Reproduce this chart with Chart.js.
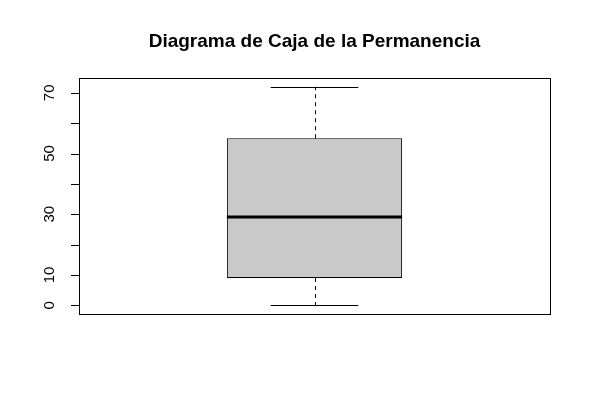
<!DOCTYPE html>
<html>
<head>
<meta charset="utf-8">
<script src="https://cdn.jsdelivr.net/npm/chart.js@4/dist/chart.umd.min.js"></script>
<style>
  html, body { margin: 0; padding: 0; background: #fff; }
  #wrap { width: 591px; height: 413px; }
</style>
</head>
<body>
<div id="wrap"><canvas id="boxChart" width="591" height="413"></canvas></div>
<script>
// Boxplot statistics
var categories = ["Permanencia"];
var whiskerLow = [0];
var quart1 = [9];
var median = [29];
var quart3 = [55];
var whiskerHigh = [72];

// y axis ticks (R draws ticks every 10, skips labels that would overlap)
var tickValues = [0, 10, 20, 30, 40, 50, 60, 70];
var tickLabels = ["0", "10", "", "30", "", "50", "", "70"];

var FONT = "'Liberation Sans', Arial, Helvetica, sans-serif";

// whiskers, median and R style axis, all placed through the chart scales
var boxExtras = {
    id: 'boxExtras',
    afterDatasetsDraw: function(chart) {
        var ctx = chart.ctx;
        var y = chart.scales.y;
        var meta = chart.getDatasetMeta(0);
        ctx.save();
        meta.data.forEach(function(bar, i) {
            var cx = bar.x;
            var half = bar.width / 2;
            var cap = bar.width / 4;
            // dashed whiskers
            ctx.strokeStyle = '#000';
            ctx.lineWidth = 1;
            ctx.setLineDash([4, 4]);
            ctx.beginPath();
            ctx.moveTo(Math.round(cx) + 0.5, y.getPixelForValue(quart3[i]));
            ctx.lineTo(Math.round(cx) + 0.5, y.getPixelForValue(whiskerHigh[i]));
            ctx.moveTo(Math.round(cx) + 0.5, y.getPixelForValue(quart1[i]));
            ctx.lineTo(Math.round(cx) + 0.5, y.getPixelForValue(whiskerLow[i]));
            ctx.stroke();
            ctx.setLineDash([]);
            // staples
            ctx.beginPath();
            var yh = Math.round(y.getPixelForValue(whiskerHigh[i])) + 0.5;
            var yl = Math.round(y.getPixelForValue(whiskerLow[i])) + 0.5;
            ctx.moveTo(cx - cap, yh); ctx.lineTo(cx + cap, yh);
            ctx.moveTo(cx - cap, yl); ctx.lineTo(cx + cap, yl);
            ctx.stroke();
            // median
            ctx.lineWidth = 3;
            ctx.beginPath();
            var ym = Math.round(y.getPixelForValue(median[i]));
            ctx.moveTo(cx - half, ym); ctx.lineTo(cx + half, ym);
            ctx.stroke();
        });
        ctx.restore();
    },
    afterDraw: function(chart) {
        var ctx = chart.ctx;
        var a = chart.chartArea;
        var y = chart.scales.y;
        ctx.save();
        ctx.strokeStyle = '#000';
        ctx.lineWidth = 1;
        // frame
        ctx.strokeRect(Math.round(a.left) + 0.5, Math.round(a.top) + 0.5,
                       Math.round(a.right - a.left), Math.round(a.bottom - a.top));
        // ticks
        ctx.beginPath();
        tickValues.forEach(function(v) {
            var py = Math.round(y.getPixelForValue(v)) + 0.5;
            ctx.moveTo(a.left - 8, py);
            ctx.lineTo(a.left, py);
        });
        ctx.stroke();
        // labels, rotated like R's las = 0
        ctx.fillStyle = '#000';
        ctx.font = '15px ' + FONT;
        ctx.textAlign = 'center';
        ctx.textBaseline = 'middle';
        tickValues.forEach(function(v, i) {
            if (!tickLabels[i]) return;
            ctx.save();
            ctx.translate(a.left - 29.5, y.getPixelForValue(v));
            ctx.rotate(-Math.PI / 2);
            ctx.fillText(tickLabels[i], 0, 0);
            ctx.restore();
        });
        ctx.restore();
    }
};

(function(){
    var boxObj = document.getElementById("boxChart").getContext("2d");
    var boxChart = new Chart(boxObj, {
        type: 'bar',
        data: {
            labels: categories,
            datasets: [{
                data: categories.map(function(c, i) { return [quart1[i], quart3[i]]; }),
                backgroundColor: '#c9c9c9',
                borderColor: '#000',
                borderWidth: 1,
                borderSkipped: false,
                categoryPercentage: 1,
                barPercentage: 0.372
            }]
        },
        options: {
            responsive: false,
            animation: false,
            layout: { padding: { left: 79, right: 41, top: 0, bottom: 99 } },
            plugins: {
                legend: { display: false },
                tooltip: { enabled: false },
                title: {
                    display: true,
                    text: 'Diagrama de Caja de la Permanencia',
                    color: '#000',
                    font: { family: FONT, size: 19, weight: 'bold', lineHeight: 1.2 },
                    padding: { top: 30, bottom: 25.2 }
                }
            },
            scales: {
                x: { display: false },
                y: { display: false, min: -2.88, max: 74.88 }
            }
        },
        plugins: [boxExtras]
    });
})();
</script>
</body>
</html>
